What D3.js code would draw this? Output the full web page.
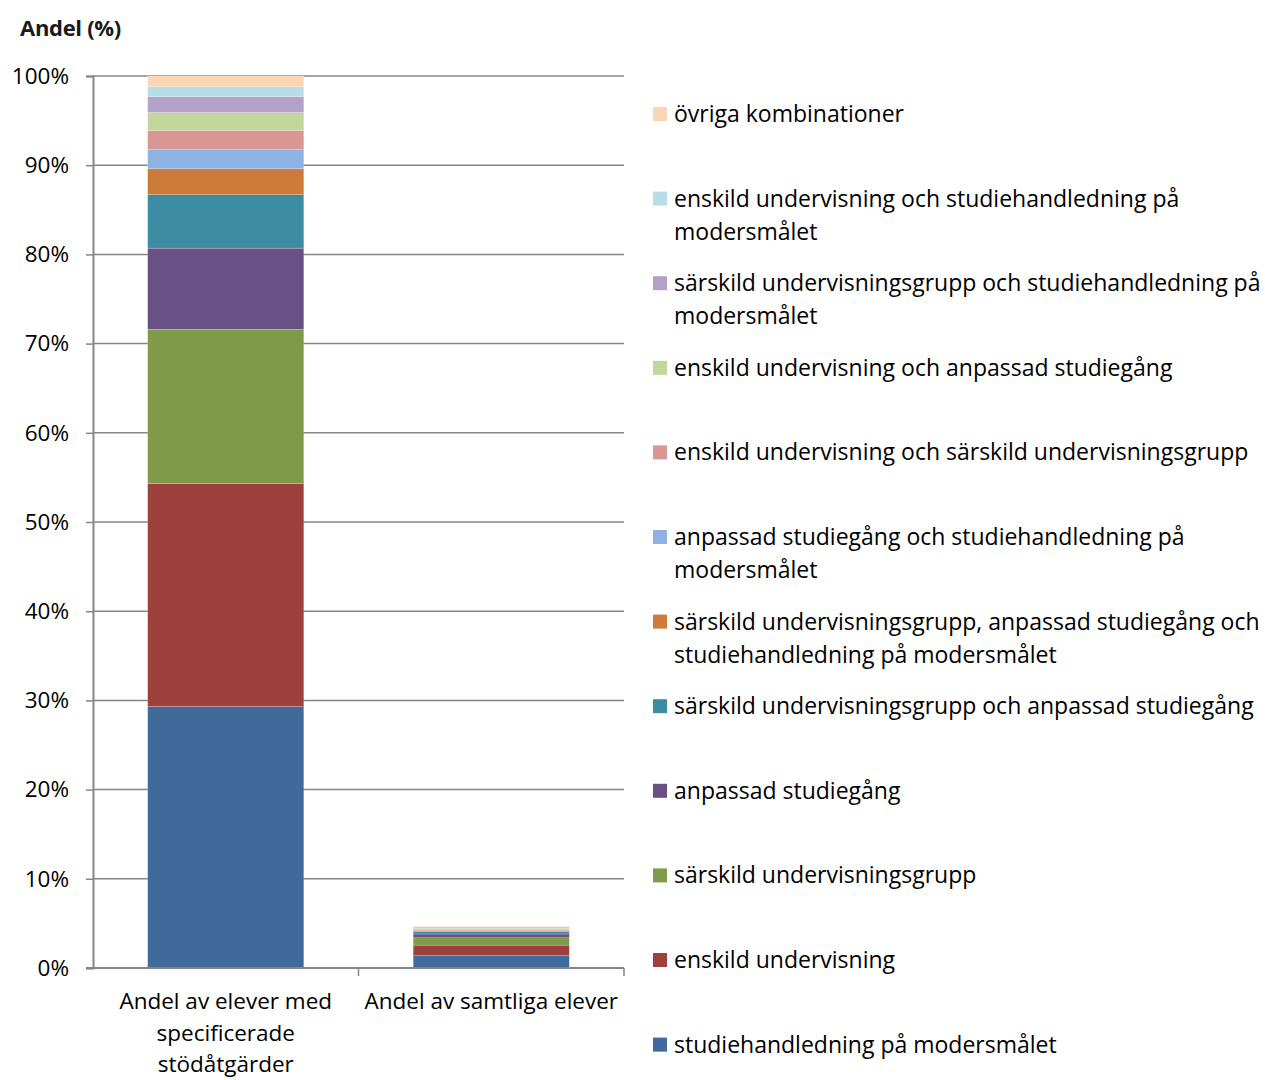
<!DOCTYPE html>
<html>
<head>
<meta charset="utf-8">
<script src="https://cdn.jsdelivr.net/npm/d3@7"></script>
<style>
  html, body { margin: 0; padding: 0; background: #fff; }
  svg { display: block; }
</style>
</head>
<body>
<svg id="chart" width="1265" height="1080"></svg>
<script>
// ---------- data ----------
const categories = ["Andel av elever med specificerade stödåtgärder", "Andel av samtliga elever"];
const categoryLines = [["Andel av elever med", "specificerade", "stödåtgärder"], ["Andel av samtliga elever"]];

// stacking order: bottom -> top
const seriesNames = [
  "studiehandledning på modersmålet",
  "enskild undervisning",
  "särskild undervisningsgrupp",
  "anpassad studiegång",
  "särskild undervisningsgrupp och anpassad studiegång",
  "särskild undervisningsgrupp, anpassad studiegång och studiehandledning på modersmålet",
  "anpassad studiegång och studiehandledning på modersmålet",
  "enskild undervisning och särskild undervisningsgrupp",
  "enskild undervisning och anpassad studiegång",
  "särskild undervisningsgrupp och studiehandledning på modersmålet",
  "enskild undervisning och studiehandledning på modersmålet",
  "övriga kombinationer"
];
const seriesValuesSpecified = [29.3, 25.0, 17.3, 9.1, 6.0, 2.9, 2.2, 2.1, 2.0, 1.8, 1.1, 1.2];
const seriesValuesAll       = [1.38, 1.18, 0.83, 0.42, 0.28, 0.14, 0.10, 0.10, 0.09, 0.08, 0.05, 0.06];
const seriesColors = [
  "#40699C", "#9E413E", "#7F9A48", "#695185", "#3C8DA3", "#CC7B38",
  "#8EB3E3", "#DA9694", "#C4D79B", "#B3A2C7", "#B7DEE8", "#FCD5B5"
];
const yTicks = [0, 10, 20, 30, 40, 50, 60, 70, 80, 90, 100];
const yTickLabels = yTicks.map(d => d + "%");
const axisTitle = "Andel (%)";

// ---------- layout ----------
const FONT = "'Open Sans', 'Noto Sans', sans-serif";
const svg = d3.select("#chart");
const plot = { left: 93, right: 624, top: 76, bottom: 968 };

const rows = categories.map((c, i) => {
  const r = { category: c };
  seriesNames.forEach((s, j) => { r[s] = [seriesValuesSpecified, seriesValuesAll][i][j]; });
  return r;
});
const stacked = d3.stack().keys(seriesNames)(rows);

const x = d3.scaleBand().domain(categories).range([plot.left, plot.right])
  .paddingInner(0.412).paddingOuter(0.206);
const y = d3.scaleLinear().domain([0, 100]).range([plot.bottom, plot.top]);
const color = d3.scaleOrdinal().domain(seriesNames).range(seriesColors);

const gridColor = "#868686";

// gridlines
svg.append("g").selectAll("line").data(yTicks.filter(d => d > 0)).join("line")
  .attr("x1", plot.left).attr("x2", plot.right)
  .attr("y1", d => y(d)).attr("y2", d => y(d))
  .attr("stroke", gridColor).attr("stroke-width", 1.5);

// bars
svg.append("g").selectAll("g").data(stacked).join("g")
  .attr("fill", d => color(d.key))
  .selectAll("rect").data(d => d).join("rect")
  .attr("x", d => x(d.data.category))
  .attr("width", x.bandwidth())
  .attr("y", d => y(d[1]))
  .attr("height", d => y(d[0]) - y(d[1]))
  .attr("stroke", "rgba(255,255,255,0.35)").attr("stroke-width", 0.6);

// y axis
const yAxis = d3.axisLeft(y).tickValues(yTicks).tickSize(7).tickFormat((d, i) => yTickLabels[i]).tickPadding(17);
const gy = svg.append("g").attr("transform", `translate(${plot.left},0)`).call(yAxis);
gy.select(".domain").attr("stroke", gridColor).attr("stroke-width", 2);
gy.selectAll(".tick line").attr("stroke", gridColor).attr("stroke-width", 1.5);
gy.selectAll(".tick text").attr("font-family", FONT).attr("font-size", 22.5).attr("fill", "#000");

// x axis
const step = x.step();
const boundaries = [plot.left].concat(categories.map(c => x(c) + x.bandwidth() + step * x.paddingInner() / 2));
boundaries[boundaries.length - 1] = plot.right;
svg.append("line").attr("x1", plot.left - 7).attr("x2", plot.right)
  .attr("y1", plot.bottom).attr("y2", plot.bottom)
  .attr("stroke", gridColor).attr("stroke-width", 2);
svg.append("g").selectAll("line").data(boundaries.slice(1)).join("line")
  .attr("x1", d => d).attr("x2", d => d)
  .attr("y1", plot.bottom).attr("y2", plot.bottom + 8)
  .attr("stroke", gridColor).attr("stroke-width", 1.5);

// category labels
const catG = svg.append("g").attr("font-family", FONT).attr("font-size", 22.5).attr("fill", "#000")
  .attr("text-anchor", "middle");
categories.forEach((c, i) => {
  const t = catG.append("text").attr("x", x(c) + x.bandwidth() / 2).attr("y", 1009);
  categoryLines[i].forEach((ln, k) => {
    t.append("tspan").attr("x", x(c) + x.bandwidth() / 2).attr("dy", k === 0 ? 0 : 31.5).text(ln);
  });
});

// axis title
svg.append("text").attr("x", 20).attr("y", 36).attr("font-family", FONT)
  .attr("font-weight", "bold").attr("font-size", 22).attr("fill", "#1a1a1a")
  .attr("letter-spacing", -0.3).text(axisTitle);

// legend
const legendFont = 23;
const legend = svg.append("g").attr("font-family", FONT).attr("font-size", legendFont).attr("fill", "#000");
const measurer = svg.append("text").attr("font-family", FONT).attr("font-size", legendFont).attr("visibility", "hidden");
function wrap(label, maxW) {
  const words = label.split(" ");
  const lines = [];
  let cur = "";
  words.forEach(w => {
    const test = cur ? cur + " " + w : w;
    measurer.text(test);
    if (cur && measurer.node().getComputedTextLength() > maxW) { lines.push(cur); cur = w; }
    else cur = test;
  });
  if (cur) lines.push(cur);
  return lines;
}
const legendOrder = seriesNames.slice().reverse();
legendOrder.forEach((name, i) => {
  const cy = 114 + i * 84.6;
  legend.append("rect").attr("x", 653).attr("y", cy - 7).attr("width", 14).attr("height", 14)
    .attr("fill", color(name));
  const lines = wrap(name, 596);
  const t = legend.append("text").attr("x", 674).attr("y", cy + 8);
  lines.forEach((ln, k) => {
    t.append("tspan").attr("x", 674).attr("dy", k === 0 ? 0 : 33).text(ln);
  });
});
measurer.remove();
</script>
</body>
</html>
